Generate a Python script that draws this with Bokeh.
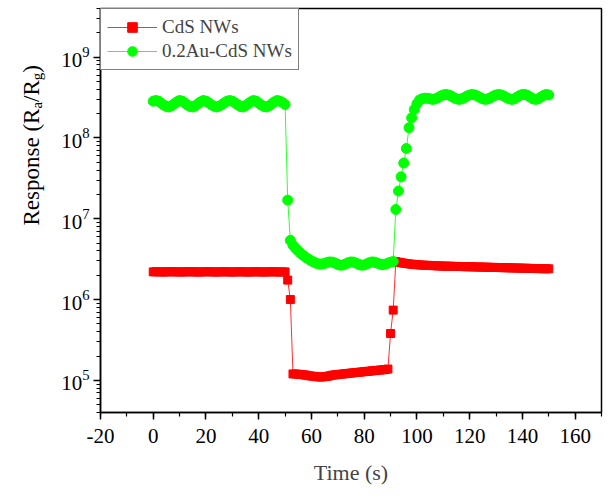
import numpy as np
from math import pi
from bokeh.plotting import figure
from bokeh.layouts import row
from bokeh.models import Range1d, SingleIntervalTicker, LogTicker, Label, Legend, LegendItem
from bokeh.embed import file_html
from bokeh.resources import INLINE

# ---------------- data ----------------
time_s = list(range(0, 151))

# CdS NWs response, in units of 1e5
cds_1e5 = [
    22.0, 22.1, 22.0, 22.0, 21.9, 22.0, 22.1, 22.1, 22.0, 22.0,
    22.0, 21.9, 22.0, 22.1, 22.1, 22.0, 22.0, 21.9, 22.0, 22.0,
    22.1, 22.1, 22.0, 22.0, 21.9, 22.0, 22.0, 22.1, 22.0, 22.0,
    21.9, 22.0, 22.0, 22.1, 22.0, 22.0, 21.9, 22.0, 22.0, 22.1,
    22.0, 22.0, 21.9, 22.0, 22.0, 22.1, 22.0, 22.0, 21.9, 22.0,
    22.0,
    17.4, 10.0,
    1.20, 1.20, 1.19, 1.18, 1.17, 1.16, 1.14, 1.13, 1.12, 1.11,
    1.10, 1.10, 1.11, 1.12, 1.14, 1.16, 1.17, 1.18, 1.19, 1.20,
    1.21, 1.22, 1.23, 1.24, 1.25, 1.26, 1.27, 1.28, 1.29, 1.30,
    1.31, 1.32, 1.33, 1.34, 1.35, 1.36, 1.38,
    3.8, 7.4, 29.5,
    29.0, 28.6, 28.2, 27.9, 27.6, 27.4, 27.2, 27.0, 26.8, 26.7,
    26.6, 26.5, 26.4, 26.3, 26.2, 26.1, 26.0, 25.95, 25.9, 25.85,
    25.8, 25.75, 25.7, 25.65, 25.6, 25.55, 25.5, 25.45, 25.4, 25.35,
    25.3, 25.25, 25.2, 25.15, 25.1, 25.05, 25.0, 24.95, 24.9, 24.85,
    24.8, 24.75, 24.7, 24.65, 24.6, 24.55, 24.5, 24.45, 24.4, 24.35,
    24.3, 24.25, 24.2, 24.15, 24.1, 24.1, 24.05, 24.0,
]

# 0.2Au-CdS NWs response, in units of 1e6
au_cds_1e6 = [
    285, 290, 285, 270, 255, 245, 242, 250, 265, 280,
    290, 285, 270, 255, 245, 242, 250, 265, 280, 290,
    285, 272, 258, 247, 242, 247, 258, 272, 285, 290,
    285, 272, 258, 245, 242, 250, 265, 280, 290, 285,
    270, 255, 245, 242, 250, 265, 280, 290, 285, 275,
    260,
    17.0, 5.4,
    4.7, 4.3, 4.0, 3.7, 3.5, 3.3, 3.15, 3.0, 2.9, 2.8,
    2.75, 2.75, 2.8, 2.88, 2.92, 2.9, 2.82, 2.72, 2.66, 2.68,
    2.76, 2.86, 2.92, 2.9, 2.82, 2.72, 2.66, 2.68, 2.76, 2.86,
    2.92, 2.9, 2.82, 2.74, 2.7, 2.74, 2.82, 2.9, 2.95,
    13, 22, 33, 49, 74, 134, 177, 225,
    265, 295, 305, 310, 310, 305, 300, 305, 315, 330,
    340, 345, 340, 330, 315, 305, 300, 305, 315, 330,
    340, 345, 340, 330, 315, 305, 300, 305, 315, 330,
    340, 345, 340, 330, 315, 305, 300, 305, 320, 335,
    345, 345, 335, 320, 305, 300, 305, 320, 335, 345,
    340,
]

series_names = ["CdS NWs", "0.2Au-CdS NWs"]
x_tick_interval = 20

assert len(cds_1e5) == len(time_s) and len(au_cds_1e6) == len(time_s)
cds = np.array(cds_1e5) * 1e5
au_cds = np.array(au_cds_1e6) * 1e6

FONT = "Liberation Serif"
X0, X1 = -20, 170
Y0, Y1 = 4e4, 4e9
H = 487
TITLE_W = 56

# ---------------- main plot ----------------
p = figure(width=603 - TITLE_W, height=H, y_axis_type="log",
           x_range=Range1d(X0, X1), y_range=Range1d(Y0, Y1),
           output_backend="svg", toolbar_location=None,
           min_border_left=100 - TITLE_W, min_border_right=2, min_border_top=8, min_border_bottom=69)

p.xgrid.visible = False
p.ygrid.visible = False
p.outline_line_color = "black"
p.outline_line_width = 1.5
p.background_fill_color = "white"
p.border_fill_color = "white"

r_line = p.line(time_s, cds, line_color="#ff3030", line_width=1)
r_pts = p.scatter(time_s, cds, marker="square", size=8, fill_color="#ff0000", line_color="#ff0000")
g_line = p.line(time_s, au_cds, line_color="#30ff30", line_width=1)
g_pts = p.scatter(time_s, au_cds, marker="circle", size=10, fill_color="#00ff00", line_color="#00ff00")

legend = Legend(items=[LegendItem(label=series_names[0], renderers=[r_line, r_pts]),
                       LegendItem(label=series_names[1], renderers=[g_line, g_pts])],
                location="top_left", margin=0, padding=6, spacing=0,
                border_line_color="black", border_line_width=1,
                label_text_font=FONT, label_text_font_size="19px",
                glyph_width=50, glyph_height=24, label_height=24, label_standoff=5,
                background_fill_alpha=1.0)
p.add_layout(legend)

p.xaxis.ticker = SingleIntervalTicker(interval=x_tick_interval, num_minor_ticks=2)
p.yaxis.ticker = LogTicker(num_minor_ticks=10)
for ax in (p.xaxis, p.yaxis):
    ax.axis_line_width = 1.5
    ax.axis_line_color = "black"
    ax.major_tick_line_width = 1.5
    ax.minor_tick_line_width = 1.2
    ax.major_tick_in = 0
    ax.major_tick_out = 7
    ax.minor_tick_in = 0
    ax.minor_tick_out = 4
    ax.major_label_text_font = FONT
    ax.major_label_text_font_size = "21px"
    ax.major_label_text_color = "black"

p.xaxis.major_label_overrides = {-20: "-20"}
p.xaxis.major_label_standoff = 9
p.yaxis.major_label_standoff = 4
p.xaxis.axis_label = "Time (s)"
p.xaxis.axis_label_text_font = FONT
p.xaxis.axis_label_text_font_size = "22px"
p.xaxis.axis_label_text_font_style = "normal"
p.xaxis.axis_label_standoff = 14

# ---------------- y title strip (rotated text with subscripts) ----------------
t = figure(width=TITLE_W, height=H, x_range=Range1d(0, 1), y_range=Range1d(0, 1),
           x_axis_location=None, y_axis_location=None,
           output_backend="svg", toolbar_location=None,
           min_border_left=0, min_border_right=0, min_border_top=0, min_border_bottom=0)
t.outline_line_color = None
t.xgrid.visible = False
t.ygrid.visible = False
t.background_fill_color = "white"
t.border_fill_color = "white"

fs_main, fs_sub = 23, 15
base_x, sub_x = 31, 36
y_start = H - 300
pieces = [("Response (R", fs_main, base_x, 116.9), ("a", fs_sub, sub_x, 6.7),
          ("/R", fs_main, base_x, 21.7), ("g", fs_sub, sub_x, 7.5), (")", fs_main, base_x, 7.7)]
yy = y_start
for txt, fs, xx, w in pieces:
    t.add_layout(Label(x=xx, y=yy, x_units="screen", y_units="screen", text=txt, angle=pi / 2,
                       text_font=FONT, text_font_size=f"{fs}px",
                       text_align="left", text_baseline="alphabetic", text_color="black"))
    yy += w

layout = row(t, p, spacing=0)
open("out.html", "w").write(file_html(layout, INLINE))
